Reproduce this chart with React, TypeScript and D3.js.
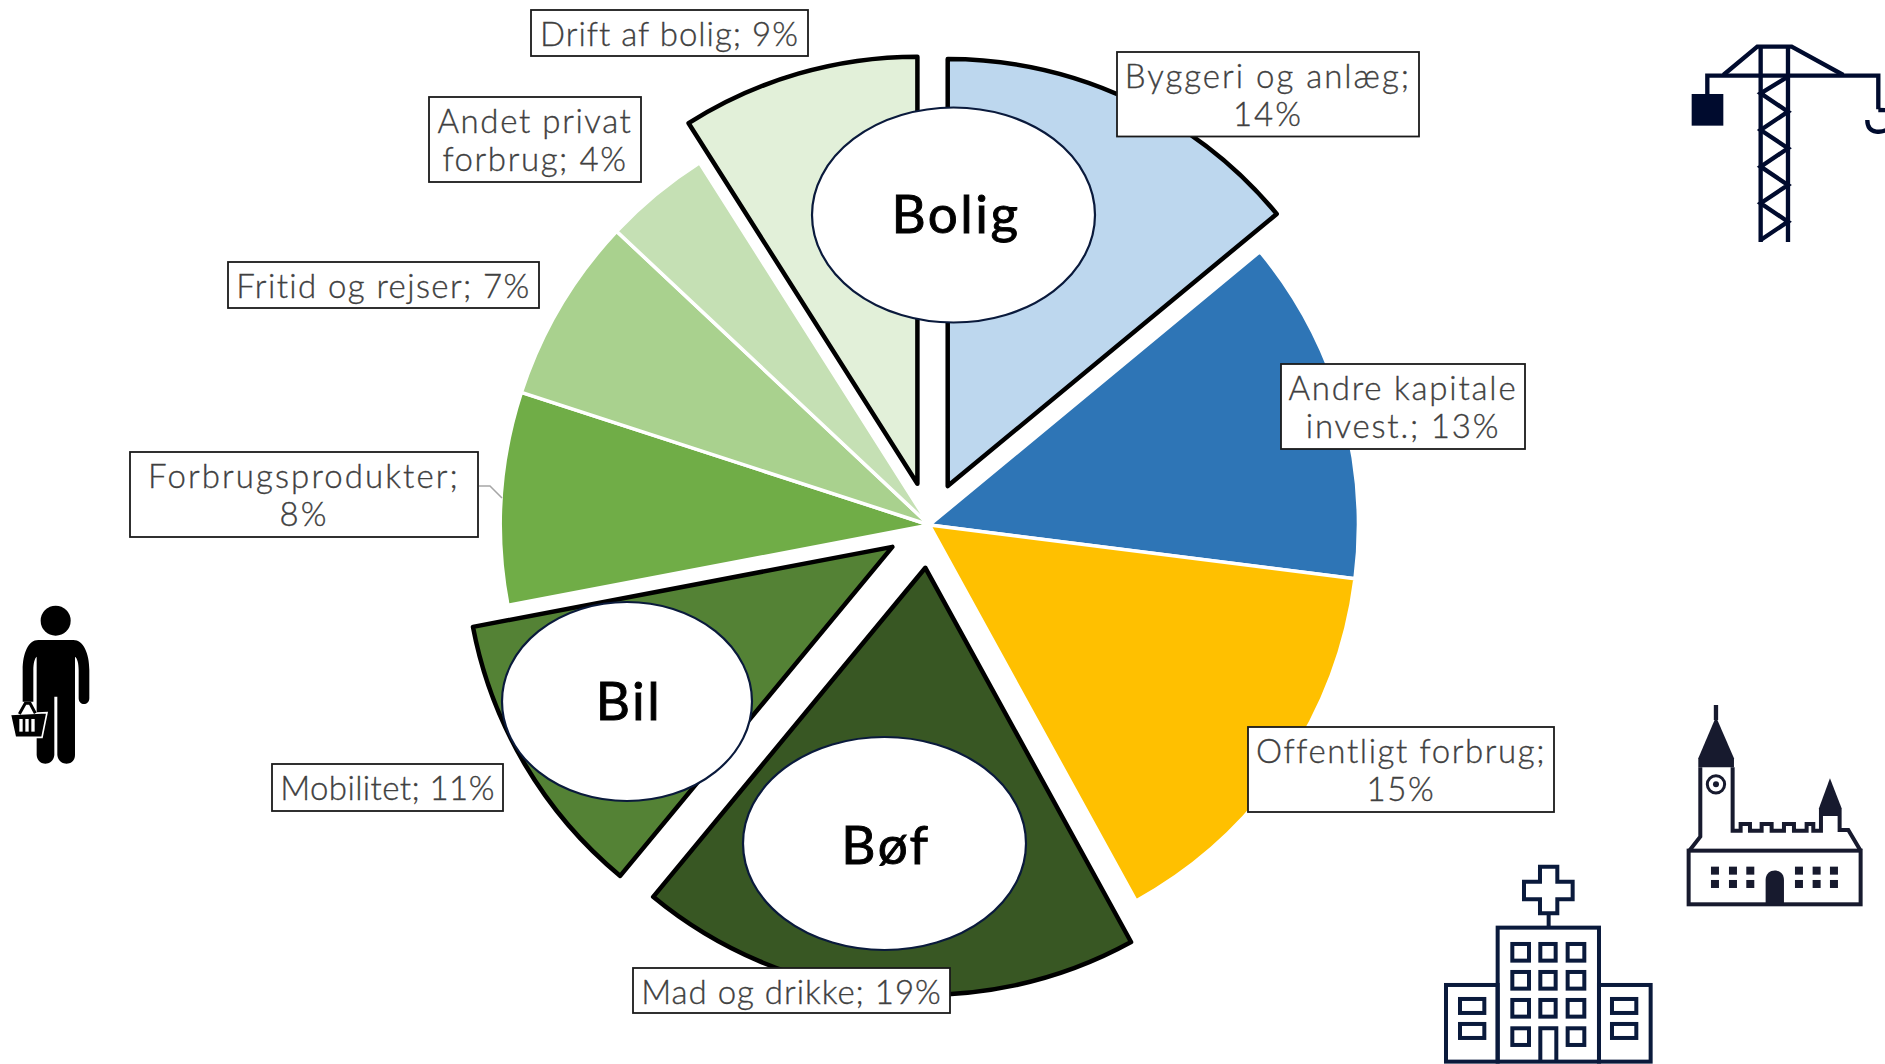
import React from "react";
import * as d3 from "d3";

// ---- data ----
const categories = [
  "Byggeri og anlæg", "Andre kapitale invest.", "Offentligt forbrug", "Mad og drikke", "Mobilitet",
  "Forbrugsprodukter", "Fritid og rejser", "Andet privat forbrug", "Drift af bolig",
];
const shares = [14, 13, 15, 19, 11, 8, 7, 4, 9];
const labelLines = [
  ["Byggeri og anlæg;", "14%"], ["Andre kapitale", "invest.; 13%"], ["Offentligt forbrug;", "15%"],
  ["Mad og drikke; 19%"], ["Mobilitet; 11%"], ["Forbrugsprodukter;", "8%"], ["Fritid og rejser; 7%"],
  ["Andet privat", "forbrug; 4%"], ["Drift af bolig; 9%"],
];
const groups = ["Bolig", "Bil", "Bøf"];

// ---- style / layout ----
const colors = ["#BDD7EE", "#2E75B6", "#FFC000", "#385723", "#548235", "#70AD47", "#A9D18E", "#C5E0B4", "#E2F0D9"];
const exploded = [true, false, false, true, true, false, false, false, true];
const labelBoxes = [
  [1117, 52, 1419, 136.5], [1281, 364, 1525, 449], [1248, 727, 1554, 812], [633, 968, 950, 1013],
  [272, 764, 503, 811], [130, 452, 478, 537], [228, 262, 539, 308], [429, 97, 641, 182], [531, 10, 808, 56],
];
const labelSpacing = [2, 1.8, 1.6, 1, 0.4, 2.1, 1.4, 1.6, 1];
const ellipses = [
  [953.5, 215, 141.5, 107.5], [627, 701.5, 125, 99.5], [884.5, 843.5, 141.5, 106.5],
];
const groupText = [[956, 233], [629, 720], [886, 864]];
const CX = 929.4, CY = 525, R = 427, R_PLAIN = 429, OFFSET = 43;
const FONT = "Lato, 'Open Sans', sans-serif";

const crane = "#000B2E", church = "#171A2E", hospital = "#0A1A3C";

function Crane() {
  const zig = [[384,170],[302,220],[384,275],[302,330],[384,385],[302,440],[384,495],[302,550],[384,605],[302,660]];
  return (
    <g transform="translate(1660,20) scale(0.3333)" fill="none" stroke={crane} strokeWidth={13}>
      <rect x={95} y={222} width={95} height={95} fill={crane} stroke="none" />
      <path d="M142 222V167H655V268" />
      <path d="M190 165L292 80H395L550 165" />
      <path d="M302 80V666M384 80V666" />
      <path d={"M" + zig.map((p) => p.join(" ")).join("L")} />
      <path d="M655 270C670 270 680 270 690 272M622 300C622 345 670 340 690 322" />
    </g>
  );
}
function Church() {
  const xs = [873, 927, 979, 1125, 1178, 1230];
  return (
    <g transform="translate(1420,690) scale(0.3333)" fill="none" stroke={church} strokeWidth={12}>
      <path d="M888 45V90" strokeWidth={13} />
      <path d="M888 80L942 205V232H835V205Z" fill={church} stroke="none" />
      <path d="M1230 265L1265 355V378H1197V355Z" fill={church} stroke="none" />
      <path d="M841 232V440L808 482M938 232V422H962V402H990V422H1025V402H1055V422H1092V402H1122V422H1160V402H1180V422H1203V378M1259 378V420H1285L1322 482" />
      <rect x={806} y={482} width={516} height={161} />
      <circle cx={888} cy={283} r={26} strokeWidth={9} />
      <circle cx={888} cy={283} r={9} fill={church} stroke="none" />
      {xs.map((x) => [530, 570].map((y) => <rect key={x + "-" + y} x={x} y={y} width={24} height={24} fill={church} stroke="none" />))}
      <path d="M1037 643V570C1037 532 1092 532 1092 570V643Z" fill={church} stroke="none" />
    </g>
  );
}
function Hospital() {
  const cols = [277, 361, 443], rows = [762, 846, 930, 1015];
  return (
    <g transform="translate(1420,690) scale(0.3333)" fill="none" stroke={hospital} strokeWidth={12}>
      <path d="M360 530H412V575H458V628H412V670H360V628H312V575H360Z" />
      <path d="M386 670V713" />
      <rect x={233} y={713} width={304} height={402} />
      <rect x={78} y={885} width={155} height={230} />
      <rect x={537} y={885} width={155} height={230} />
      {rows.map((y) => cols.map((x) => (x === 361 && y === 1015 ? null :
        <rect key={x + "-" + y} x={x} y={y} width={x === 361 ? 46 : 50} height={50} />)))}
      <path d="M361 1115V1015H409V1115" />
      {[120, 576].map((x) => [927, 1002].map((y) => <rect key={x + "-" + y} x={x} y={y} width={73} height={42} />))}
    </g>
  );
}
function Person() {
  return (
    <g transform="translate(0,590) scale(0.3333)" fill="#000">
      <circle cx={167} cy={92} r={45} />
      <path d="M115 150H220C250 150 268 190 268 240V325C268 348 236 348 236 325V240C236 220 232 205 225 200V495C225 530 175 530 172 495V320H163V495C160 530 112 530 110 495V200C104 205 100 220 100 240V335H68V240C68 190 85 150 115 150Z" />
      <path d="M31 373L141 368L126 442L46 442Z" stroke="#fff" strokeWidth={5} />
      <path d="M58 372L76 340H90L106 370" fill="none" stroke="#000" strokeWidth={9} />
      {[58, 76, 94].map((x) => <rect key={x} x={x} y={387} width={10} height={38} fill="#fff" />)}
    </g>
  );
}

export default function App() {
  const pie = d3.pie<number>().sort(null).startAngle(0).endAngle(2 * Math.PI);
  const arcs = pie(shares);
  const arcOut = d3.arc<d3.PieArcDatum<number>>().innerRadius(0).outerRadius(R);
  const arcPlain = d3.arc<d3.PieArcDatum<number>>().innerRadius(0).outerRadius(R_PLAIN);
  const shift = (a: d3.PieArcDatum<number>, i: number) => {
    const m = (a.startAngle + a.endAngle) / 2;
    const d = exploded[i] ? OFFSET : 0;
    return `translate(${CX + d * Math.sin(m)},${CY - d * Math.cos(m)})`;
  };
  const order = arcs.map((_, i) => i).sort((a, b) => Number(exploded[a]) - Number(exploded[b]));
  return (
    <svg width={1885} height={1064} style={{ position: "absolute", left: 0, top: 0, display: "block", background: "#fff" }}>
      {order.map((i) => (
        <path
          key={categories[i]}
          d={(exploded[i] ? arcOut : arcPlain)(arcs[i]) || ""}
          transform={shift(arcs[i], i)}
          fill={colors[i]}
          stroke={exploded[i] ? "#000" : "#fff"}
          strokeWidth={exploded[i] ? 4.5 : 3.5}
          strokeLinejoin={exploded[i] ? "round" : "miter"}
        />
      ))}
      <path d="M479 486H490L502 498" fill="none" stroke="#A6A6A6" strokeWidth={1.5} />
      {ellipses.map(([cx, cy, rx, ry], i) => (
        <ellipse key={groups[i]} cx={cx} cy={cy} rx={rx} ry={ry} fill="#fff" stroke="#0A1A3C" strokeWidth={2.2} />
      ))}
      {groups.map((g, i) => (
        <text key={g} x={groupText[i][0]} y={groupText[i][1]} textAnchor="middle" fontFamily={FONT} fontSize={53} fontWeight={400} letterSpacing={2.5} stroke="#000" strokeWidth={0.9} fill="#000">{g}</text>
      ))}
      {labelLines.map((lines, i) => {
        const [x0, y0, x1, y1] = labelBoxes[i];
        return (
          <g key={categories[i]}>
            <rect x={x0} y={y0} width={x1 - x0} height={y1 - y0} fill="#fff" stroke="#1a1a1a" strokeWidth={1.8} />
            {lines.map((t, j) => (
              <text key={t} x={(x0 + x1) / 2} y={y0 + 36 + j * 38} textAnchor="middle" fontFamily={FONT} fontSize={33} fontWeight={300} letterSpacing={labelSpacing[i]} stroke="#404040" strokeWidth={0.35} fill="#404040">{t}</text>
            ))}
          </g>
        );
      })}
      <Crane />
      <Church />
      <Hospital />
      <Person />
    </svg>
  );
}
